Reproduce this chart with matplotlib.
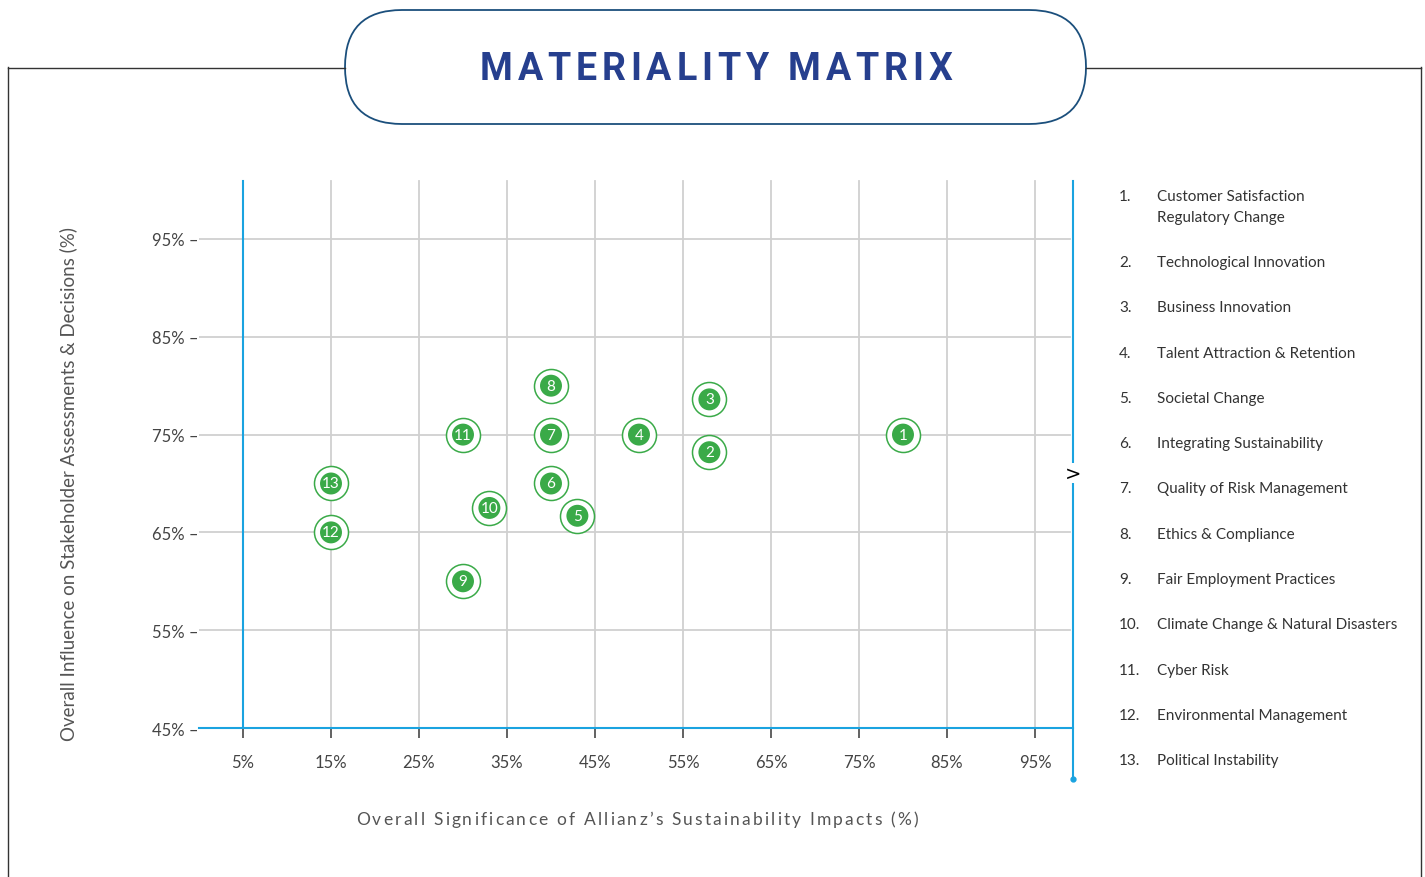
import matplotlib
matplotlib.use("Agg")
import matplotlib.pyplot as plt
from matplotlib.patches import FancyBboxPatch
from matplotlib.lines import Line2D

# ---- data ----
labels = ["1", "2", "3", "4", "5", "6", "7", "8", "9", "10", "11", "12", "13"]
x_vals = [80, 58, 58, 50, 43, 40, 40, 40, 30, 33, 30, 15, 15]
y_vals = [75, 73.2, 78.6, 75, 66.7, 70, 75, 80, 60, 67.5, 75, 65, 70]
legend_items = [
    "Customer Satisfaction\nRegulatory Change",
    "Technological Innovation",
    "Business Innovation",
    "Talent Attraction & Retention",
    "Societal Change",
    "Integrating Sustainability",
    "Quality of Risk Management",
    "Ethics & Compliance",
    "Fair Employment Practices",
    "Climate Change & Natural Disasters",
    "Cyber Risk",
    "Environmental Management",
    "Political Instability",
]
x_ticks = [5, 15, 25, 35, 45, 55, 65, 75, 85, 95]
y_ticks = [45, 55, 65, 75, 85, 95]

GREEN = "#3aaa48"
BLUE = "#1aa3e0"
GRID = "#d0d0d0"
TXT = "#444444"
FONT = "Lato"

W, H = 1425, 878
fig = plt.figure(figsize=(W / 100, H / 100), dpi=100)
renderer = fig.canvas.get_renderer()

# background (pixel coordinates)
bg = fig.add_axes([0, 0, 1, 1])
bg.set_xlim(0, W)
bg.set_ylim(H, 0)
bg.axis("off")


def spaced_text(axis, cx, cy, s, target_w, **kw):
    """Place characters one by one so the string spans target_w pixels."""
    widths = []
    for ch in s:
        if ch == " ":
            t = axis.text(0, 0, "a a", **kw)
            t2 = axis.text(0, 0, "aa", **kw)
            w = (t.get_window_extent(renderer).width
                 - t2.get_window_extent(renderer).width)
            t.remove(); t2.remove()
        else:
            t = axis.text(0, 0, ch, **kw)
            w = t.get_window_extent(renderer).width
            t.remove()
        widths.append(w)
    gap = (target_w - sum(widths)) / (len(s) - 1)
    x = cx - target_w / 2
    for ch, w in zip(s, widths):
        if ch != " ":
            axis.text(x, cy, ch, ha="left", va="center", **kw)
        x += w + gap


frame_c = "#333333"
bg.add_line(Line2D([8, 345], [68.5, 68.5], color=frame_c, lw=1))
bg.add_line(Line2D([1086, 1421], [68.5, 68.5], color=frame_c, lw=1))
bg.add_line(Line2D([8.5, 8.5], [68, H], color=frame_c, lw=1))
bg.add_line(Line2D([1421, 1421], [68, H], color=frame_c, lw=1))
pill = FancyBboxPatch((345, 11), 741, 114,
                      boxstyle="round,pad=0,rounding_size=57",
                      facecolor="white", edgecolor="#1b4f7c", lw=1.3)
bg.add_patch(pill)
spaced_text(bg, 716, 70, "MATERIALITY MATRIX", 472,
            fontsize=27, fontweight="bold", color="#263f8e", family="Roboto")

# legend
num_x, txt_x = 1119, 1157
LEG = dict(ha="left", va="center", fontsize=11, color="#333333", family=FONT)
for i, item in enumerate(legend_items):
    y = 197 if i == 0 else 263 + 45.3 * (i - 1)
    bg.text(num_x, y, f"{i + 1}.", **LEG)
    if "\n" in item:
        l1, l2 = item.split("\n")
        bg.text(txt_x, 197, l1, **LEG)
        bg.text(txt_x, 218, l2, **LEG)
    else:
        bg.text(txt_x, y, item, **LEG)

# axis titles
bg.text(68, 484, "Overall Influence on Stakeholder Assessments & Decisions (%)",
        rotation=90, ha="center", va="center", fontsize=13.5, color="#555555",
        family=FONT)
spaced_text(bg, 637, 820, "Overall Significance of Allianz\u2019s Sustainability Impacts (%)",
            562, fontsize=12.5, color="#555555", family=FONT)

# main plot axes
left, right, top, bottom = 199, 1073, 182, 729
ax = fig.add_axes([left / W, 1 - bottom / H, (right - left) / W, (bottom - top) / H])
ax.patch.set_alpha(0)
XMAX = 99.32
YMAX = 100.93
ax.set_xlim(0, XMAX)
ax.set_ylim(45, YMAX)
for s in ax.spines.values():
    s.set_visible(False)

for xv in x_ticks[1:]:
    ax.plot([xv, xv], [45, YMAX], color=GRID, lw=1.3, zorder=1, clip_on=False)
for yv in y_ticks[1:]:
    ax.plot([0, XMAX - 0.3], [yv, yv], color=GRID, lw=1.3, zorder=1)

ax.plot([5, 5], [45, YMAX], color=BLUE, lw=1.5, zorder=2, clip_on=False)
ax.plot([0, XMAX], [45, 45], color=BLUE, lw=1.5, zorder=2, clip_on=False)
ax.plot([XMAX, XMAX], [39.8, YMAX], color=BLUE, lw=1.5, zorder=2, clip_on=False)
ax.plot([XMAX], [39.8], "o", color=BLUE, ms=3.5, zorder=2, clip_on=False)

# ">" marker interrupting the right axis line
ax.text(1073, 474, ">", transform=bg.transData, ha="center", va="center",
        fontsize=14, color="black", family="DejaVu Sans", zorder=10, clip_on=False,
        bbox=dict(boxstyle="square,pad=0.04", fc="white", ec="none"))

ax.set_xticks(x_ticks)
ax.set_xticklabels([f"{v}%" for v in x_ticks], family=FONT, fontsize=12, color=TXT)
ax.tick_params(axis="x", length=7, width=1.3, color="#555555", pad=12, direction="out")
ax.set_yticks(y_ticks)
ax.set_yticklabels([f"{v}% \u2013" for v in y_ticks], family=FONT, fontsize=12, color=TXT)
ax.tick_params(axis="y", length=0, pad=0)

# markers
ax.scatter(x_vals, y_vals, s=600, facecolor="white", edgecolor=GREEN, linewidth=1.1, zorder=4)
ax.scatter(x_vals, y_vals, s=250, facecolor=GREEN, edgecolor="none", zorder=5)
for xv, yv, lab in zip(x_vals, y_vals, labels):
    ax.text(xv, yv, lab, ha="center", va="center", fontsize=11, color="white",
            family=FONT, zorder=6)

fig.savefig("out.png", dpi=100)
